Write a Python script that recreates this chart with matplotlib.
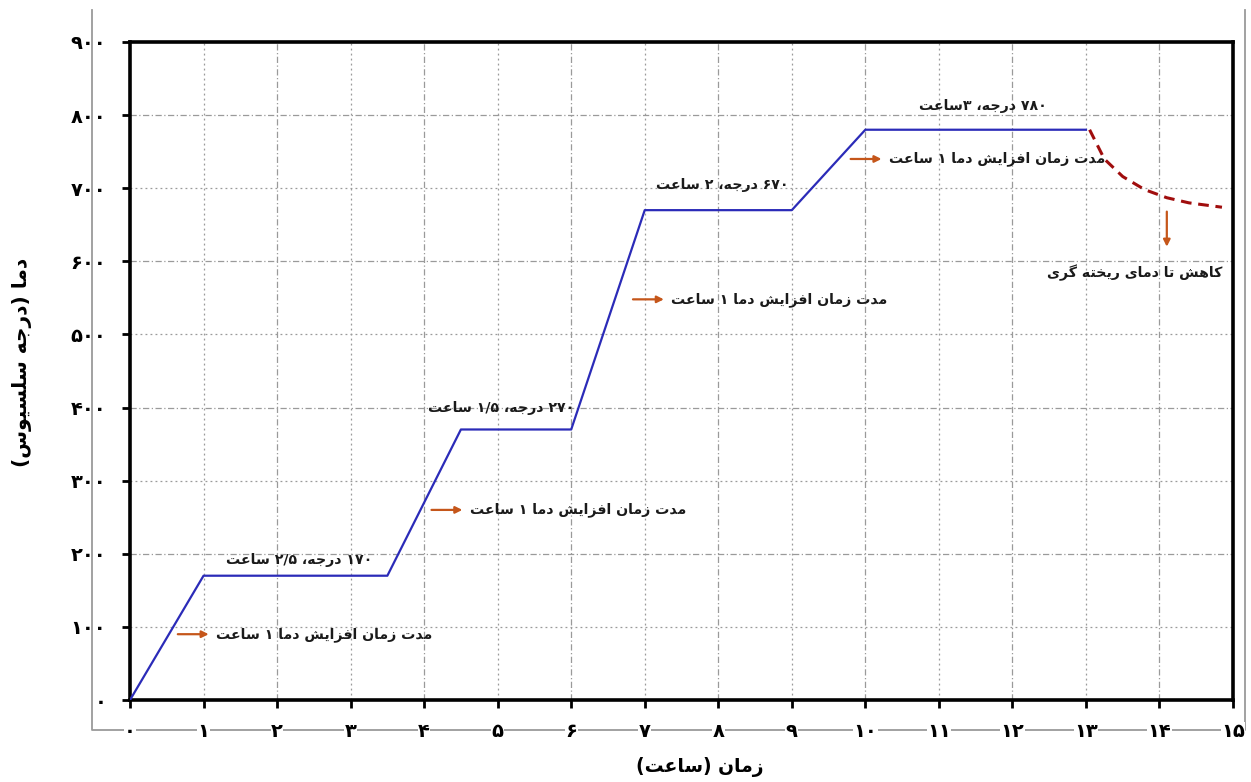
"""
Heat treatment schedule: furnace temperature (C) against time (hours),
with Persian labels shaped by hand because matplotlib does no Arabic shaping.
"""
import re

import matplotlib
matplotlib.use("Agg")
import matplotlib.pyplot as plt
from matplotlib.lines import Line2D

plt.rcParams['font.family'] = ['DejaVu Sans']

# ---- data ----
stage_time = [0, 1, 3.5, 4.5, 6, 7, 9, 10, 13]
stage_temp = [0, 170, 170, 370, 370, 670, 670, 780, 780]

cool_time = [13.05, 13.25, 13.5, 13.8, 14.1, 14.4, 14.85]
cool_temp = [780, 740, 716, 698, 687, 680, 674]

x_ticks = list(range(0, 16))
y_ticks = list(range(0, 1000, 100))

rise_text = "مدت زمان افزایش دما ۱ ساعت"
hold_texts = [
    "۱۷۰ درجه، ۲/۵ ساعت",
    "۲۷۰ درجه، ۱/۵ ساعت",
    "۶۷۰ درجه، ۲ ساعت",
    "۷۸۰ درجه، ۳ساعت",
]
cool_text = "کاهش تا دمای ریخته گری"
x_title = "زمان (ساعت)"
y_title = "دما (درجه سلسیوس)"

# ---- a tiny Arabic/Persian shaper (iso, final, initial, medial) ----
FORMS = {
    'ا': ('\uFE8D', '\uFE8E', None, None),
    'د': ('\uFEA9', '\uFEAA', None, None),
    'ر': ('\uFEAD', '\uFEAE', None, None),
    'ز': ('\uFEAF', '\uFEB0', None, None),
    'و': ('\uFEED', '\uFEEE', None, None),
    'ت': ('\uFE95', '\uFE96', '\uFE97', '\uFE98'),
    'ج': ('\uFE9D', '\uFE9E', '\uFE9F', '\uFEA0'),
    'خ': ('\uFEA5', '\uFEA6', '\uFEA7', '\uFEA8'),
    'س': ('\uFEB1', '\uFEB2', '\uFEB3', '\uFEB4'),
    'ش': ('\uFEB5', '\uFEB6', '\uFEB7', '\uFEB8'),
    'ع': ('\uFEC9', '\uFECA', '\uFECB', '\uFECC'),
    'ف': ('\uFED1', '\uFED2', '\uFED3', '\uFED4'),
    'ل': ('\uFEDD', '\uFEDE', '\uFEDF', '\uFEE0'),
    'م': ('\uFEE1', '\uFEE2', '\uFEE3', '\uFEE4'),
    'ن': ('\uFEE5', '\uFEE6', '\uFEE7', '\uFEE8'),
    'ه': ('\uFEE9', '\uFEEA', '\uFEEB', '\uFEEC'),
    'ی': ('\uFBFC', '\uFBFD', '\uFBFE', '\uFBFF'),
    'ک': ('\uFB8E', '\uFB8F', '\uFB90', '\uFB91'),
    'گ': ('\uFB92', '\uFB93', '\uFB94', '\uFB95'),
}
MIRROR = {'(': ')', ')': '('}
NUM = r'[0-9\u06F0-\u06F9/.]+'


def shape(text):
    out = []
    for i, ch in enumerate(text):
        if ch not in FORMS:
            out.append(ch)
            continue
        prev = text[i - 1] if i > 0 else ''
        nxt = text[i + 1] if i + 1 < len(text) else ''
        iso, fin, ini, med = FORMS[ch]
        jp = prev in FORMS and FORMS[prev][2] is not None
        jn = ini is not None and nxt in FORMS
        if jp and jn:
            out.append(med)
        elif jp:
            out.append(fin)
        elif jn:
            out.append(ini)
        else:
            out.append(iso)
    return ''.join(out)


def fa(text):
    """Logical Persian string -> visual string for left-to-right drawing."""
    s = shape(text)
    runs = re.findall(NUM + '|' + r'[^0-9\u06F0-\u06F9/.]+', s)
    out = []
    for r in reversed(runs):
        if re.fullmatch(NUM, r):
            out.append(r)
        else:
            out.append(''.join(MIRROR.get(c, c) for c in reversed(r)))
    return ''.join(out)


def fa_digits(n):
    return str(n).translate(str.maketrans('0123456789', '۰۱۲۳۴۵۶۷۸۹'))


# ---- figure ----
W, H = 1251, 782
fig = plt.figure(figsize=(W / 100, H / 100), dpi=100)
ax = fig.add_axes([130 / W, 1 - 700 / H, 1103 / W, 658 / H])
ax.set_xlim(0, 15)
ax.set_ylim(0, 900)

# outer light frame the labels sit on
gray = '#9a9a9a'
fig.add_artist(Line2D([92 / W, 92 / W, 1245 / W, 1245 / W],
                      [1 - 10 / H, 1 - 730 / H, 1 - 730 / H, 1 - 10 / H],
                      transform=fig.transFigure, color=gray, lw=1.3, zorder=0))

# grid: even lines dash-dot, odd lines dotted
for v in x_ticks[1:-1]:
    ax.axvline(v, color=gray, lw=0.9,
               ls=(0, (5, 2, 1, 2)) if v % 2 == 0 else (0, (1.5, 2.5)), zorder=1)
for v in y_ticks[1:-1]:
    ax.axhline(v, color=gray, lw=0.9,
               ls=(0, (5, 2, 1, 2)) if v % 200 == 0 else (0, (1.5, 2.5)), zorder=1)

ax.plot(stage_time, stage_temp, color='#2b2bb8', lw=1.6, zorder=3)
ax.plot(cool_time, cool_temp, color='#a00d0d', lw=2.2, ls=(0, (3.5, 2.2)), zorder=3)

# annotations
orange = '#c5561a'
font = dict(fontsize=10.2, fontweight='bold', color='#1a1a1a')
rise_arrows = [(0.65, 1.07, 90), (4.1, 4.52, 260), (6.84, 7.26, 548), (9.8, 10.22, 740)]
for x0, x1, yv in rise_arrows:
    ax.annotate('', xy=(x1, yv), xytext=(x0, yv),
                arrowprops=dict(arrowstyle='-|>', color=orange, lw=1.6,
                                mutation_scale=10, shrinkA=0, shrinkB=0), zorder=4)
    ax.text(x1 + 0.1, yv, fa(rise_text), ha='left', va='center', zorder=4, **font)

hold_pos = [(2.3, 192), (5.05, 400), (8.05, 704), (11.6, 812)]
for (xv, yv), t in zip(hold_pos, hold_texts):
    ax.text(xv, yv, fa(t), ha='center', va='center', zorder=4, **font)

ax.annotate('', xy=(14.1, 620), xytext=(14.1, 668),
            arrowprops=dict(arrowstyle='-|>', color=orange, lw=1.6,
                            mutation_scale=10, shrinkA=0, shrinkB=0), zorder=4)
ax.text(13.66, 585, fa(cool_text), ha='center', va='center', zorder=4, **font)

# spines and ticks
for sp in ax.spines.values():
    sp.set_linewidth(2.6)
    sp.set_color('black')

ax.set_xticks(x_ticks)
ax.set_xticklabels([fa_digits(v) for v in x_ticks])
ax.set_yticks(y_ticks)
ax.set_yticklabels([fa_digits(v) for v in y_ticks])
ax.set_xticks(x_ticks[::2], minor=True)
ax.set_yticks(y_ticks[::2], minor=True)
ax.tick_params(which='major', direction='out', length=6, width=2, labelsize=14,
               color='black')
ax.tick_params(axis='x', which='major', pad=10)
ax.tick_params(axis='y', which='major', pad=11)
ax.tick_params(which='minor', direction='out', length=12, width=2, color='black')
for lab in ax.get_xticklabels():
    lab.set_fontweight('bold')
    lab.set_bbox(dict(facecolor='white', edgecolor='none', pad=0.3))
for lab in ax.get_yticklabels():
    lab.set_fontweight('bold')

fig.text(700 / W, 1 - 767 / H, fa(x_title), ha='center', va='center',
         fontsize=13.5, fontweight='bold')
fig.text(22 / W, 1 - 362 / H, fa(y_title), ha='center', va='center',
         rotation=90, fontsize=14.5, fontweight='bold')

fig.savefig('out.png', dpi=100)
